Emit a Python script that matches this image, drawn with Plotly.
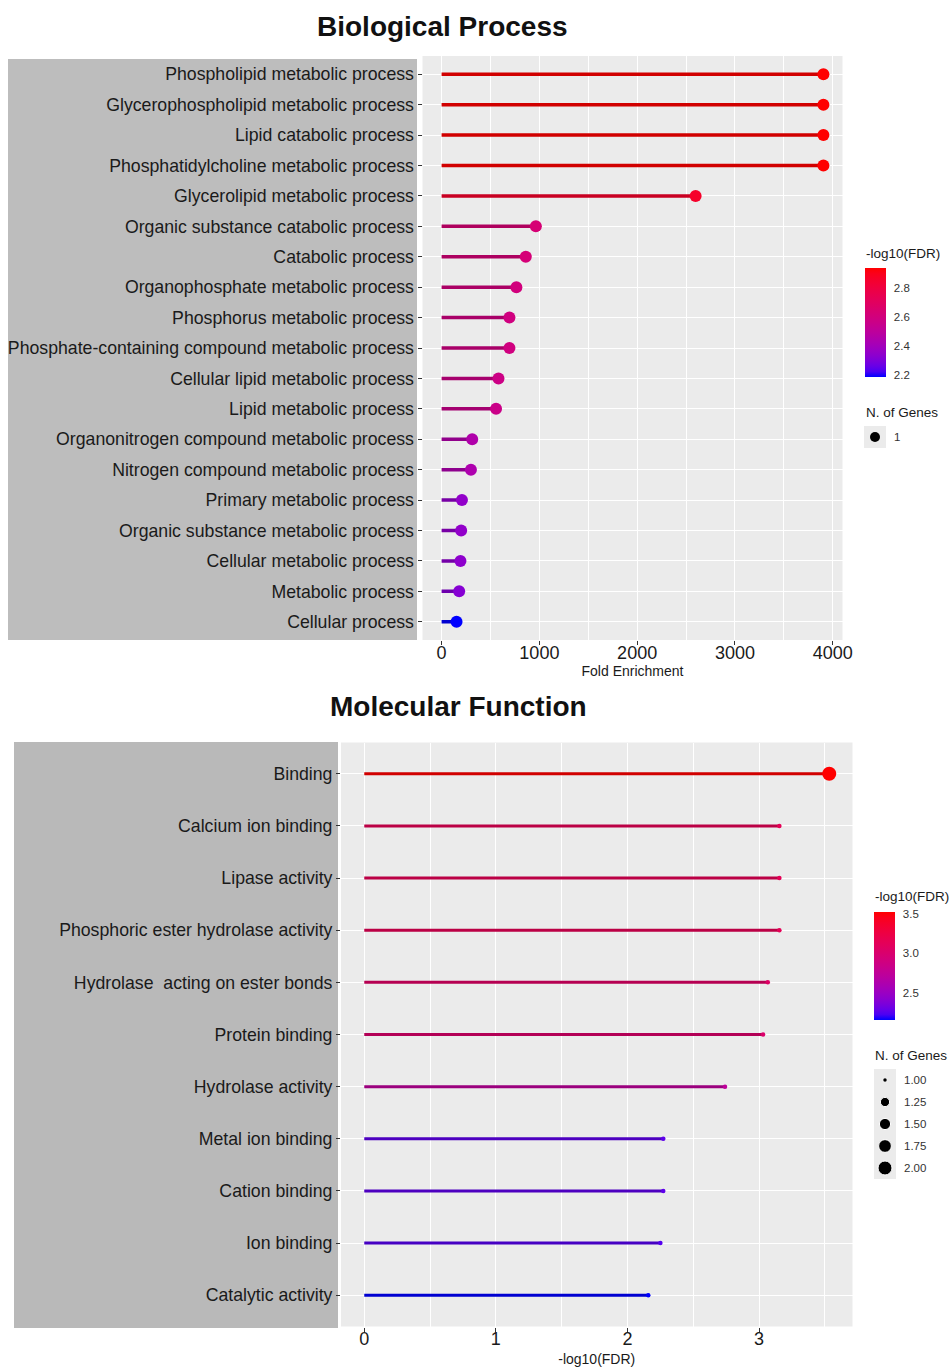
import math
import plotly.graph_objects as go

W, H = 952, 1367
# horizontal width the page actually lays the paper out on
W_PAPER = 942

# ---------------- Biological Process ----------------
bp_terms = [
    "Phospholipid metabolic process",
    "Glycerophospholipid metabolic process",
    "Lipid catabolic process",
    "Phosphatidylcholine metabolic process",
    "Glycerolipid metabolic process",
    "Organic substance catabolic process",
    "Catabolic process",
    "Organophosphate metabolic process",
    "Phosphorus metabolic process",
    "Phosphate-containing compound metabolic process",
    "Cellular lipid metabolic process",
    "Lipid metabolic process",
    "Organonitrogen compound metabolic process",
    "Nitrogen compound metabolic process",
    "Primary metabolic process",
    "Organic substance metabolic process",
    "Cellular metabolic process",
    "Metabolic process",
    "Cellular process",
]
bp_fold = [3905, 3905, 3905, 3905, 2598, 964, 861, 765, 694, 694,
           582, 557, 313, 300, 208, 200, 193, 180, 153]
bp_logfdr = [2.935, 2.935, 2.935, 2.935, 2.86, 2.63, 2.62, 2.60, 2.59, 2.59,
             2.57, 2.56, 2.45, 2.44, 2.35, 2.35, 2.34, 2.32, 2.186]
bp_genes = [1] * len(bp_terms)
bp_cbar_ticks = [2.2, 2.4, 2.6, 2.8]
bp_xticks = [0, 1000, 2000, 3000, 4000]

# ---------------- Molecular Function ----------------
mf_terms = [
    "Binding",
    "Calcium ion binding",
    "Lipase activity",
    "Phosphoric ester hydrolase activity",
    "Hydrolase  acting on ester bonds",
    "Protein binding",
    "Hydrolase activity",
    "Metal ion binding",
    "Cation binding",
    "Ion binding",
    "Catalytic activity",
]
mf_logfdr = [3.533, 3.154, 3.154, 3.154, 3.066, 3.03, 2.741, 2.272, 2.272, 2.25, 2.158]
mf_genes = [2, 1, 1, 1, 1, 1, 1, 1, 1, 1, 1]
mf_cbar_ticks = [2.5, 3.0, 3.5]
mf_xticks = [0, 1, 2, 3]
mf_size_keys = [1.00, 1.25, 1.50, 1.75, 2.00]


# ---------- colour helpers: blue -> red gradient interpolated in CIE Lab ----------
def _lin(c):
    c = c / 255.0
    return c / 12.92 if c <= 0.04045 else ((c + 0.055) / 1.055) ** 2.4


def _unlin(c):
    c = max(0.0, min(1.0, c))
    v = 12.92 * c if c <= 0.0031308 else 1.055 * c ** (1 / 2.4) - 0.055
    return max(0, min(255, round(v * 255)))


def rgb_to_lab(rgb):
    r, g, b = (_lin(v) for v in rgb)
    X = (0.4124 * r + 0.3576 * g + 0.1805 * b) / 0.95047
    Y = (0.2126 * r + 0.7152 * g + 0.0722 * b)
    Z = (0.0193 * r + 0.1192 * g + 0.9505 * b) / 1.08883
    f = lambda t: t ** (1 / 3) if t > 0.008856 else 7.787 * t + 16 / 116
    fx, fy, fz = f(X), f(Y), f(Z)
    return (116 * fy - 16, 500 * (fx - fy), 200 * (fy - fz))


def lab_to_rgb(lab):
    L, a, b = lab
    fy = (L + 16) / 116
    fx = fy + a / 500
    fz = fy - b / 200
    finv = lambda t: t ** 3 if t ** 3 > 0.008856 else (t - 16 / 116) / 7.787
    X, Y, Z = finv(fx) * 0.95047, finv(fy), finv(fz) * 1.08883
    r = 3.2406 * X - 1.5372 * Y - 0.4986 * Z
    g = -0.9689 * X + 1.8758 * Y + 0.0415 * Z
    bb = 0.0557 * X - 0.2040 * Y + 1.0570 * Z
    return (_unlin(r), _unlin(g), _unlin(bb))


LOW, HIGH = rgb_to_lab((0, 0, 255)), rgb_to_lab((255, 0, 0))


def grad(t, shade=1.0):
    t = max(0.0, min(1.0, t))
    lab = tuple(LOW[i] + (HIGH[i] - LOW[i]) * t for i in range(3))
    r, g, b = lab_to_rgb(lab)
    return f"rgb({int(r * shade)},{int(g * shade)},{int(b * shade)})"


colorscale = [[i / 20, grad(i / 20)] for i in range(21)]


def expanded(lo, hi, mult=0.05):
    span = hi - lo
    return [lo - mult * span, hi + mult * span]


def py(px):
    # pixel row (from top) -> paper y
    return 1 - px / H


def pxx(px):
    # pixel column -> paper x
    return px / W_PAPER


fig = go.Figure()

# ---------------- top panel traces ----------------
bp_min, bp_max = min(bp_logfdr), max(bp_logfdr)
for term, fe, v in zip(bp_terms, bp_fold, bp_logfdr):
    t = (v - bp_min) / (bp_max - bp_min)
    fig.add_trace(go.Scatter(
        x=[0, fe], y=[term, term], mode="lines",
        line=dict(color=grad(t, 0.82), width=3.5),
        xaxis="x", yaxis="y", showlegend=False, hoverinfo="skip"))
fig.add_trace(go.Scatter(
    x=bp_fold, y=bp_terms, mode="markers",
    marker=dict(size=[12 for _ in bp_genes], color=bp_logfdr, coloraxis="coloraxis",
                opacity=1, line=dict(width=0)),
    xaxis="x", yaxis="y", showlegend=False))

# ---------------- bottom panel traces ----------------
mf_min, mf_max = min(mf_logfdr), max(mf_logfdr)
g_min, g_max = min(mf_genes), max(mf_genes)


def dot_size(n):
    return 4.5 + 9.5 * math.sqrt((n - g_min) / (g_max - g_min))


for term, v in zip(mf_terms, mf_logfdr):
    t = (v - mf_min) / (mf_max - mf_min)
    fig.add_trace(go.Scatter(
        x=[0, v], y=[term, term], mode="lines",
        line=dict(color=grad(t, 0.82), width=3),
        xaxis="x2", yaxis="y2", showlegend=False, hoverinfo="skip"))
fig.add_trace(go.Scatter(
    x=mf_logfdr, y=mf_terms, mode="markers",
    marker=dict(size=[dot_size(n) for n in mf_genes], color=mf_logfdr,
                coloraxis="coloraxis2", opacity=1, line=dict(width=0)),
    xaxis="x2", yaxis="y2", showlegend=False))

# ---------------- size legends ----------------
fig.add_trace(go.Scatter(
    x=[0.5], y=["1"], mode="markers",
    marker=dict(size=10, color="black", opacity=1), xaxis="x3", yaxis="y3",
    showlegend=False, hoverinfo="skip"))
key_labels = [f"{k:.2f}" for k in mf_size_keys]
fig.add_trace(go.Scatter(
    x=[0.5] * len(mf_size_keys), y=key_labels, mode="markers",
    marker=dict(size=[dot_size(k) for k in mf_size_keys], color="black", opacity=1),
    xaxis="x4", yaxis="y4", showlegend=False, hoverinfo="skip"))

SANS = "Liberation Sans, Arial, Helvetica, sans-serif"
ytick_font = dict(family=SANS, size=17.7, color="#1a1a1a")
xtick_font = dict(family=SANS, size=18, color="#1a1a1a")
leg_font = dict(family=SANS, size=11.5, color="#333333")

common_x = dict(showgrid=True, gridcolor="white", gridwidth=1.3, zeroline=False,
                ticks="outside", ticklen=4, tickcolor="#333333", tickwidth=1,
                tickfont=xtick_font, showline=False, ticklabelstandoff=-8)
common_y = dict(showgrid=True, gridcolor="white", gridwidth=1.3, zeroline=False,
                ticks="outside", ticklen=4, tickcolor="#333333", tickwidth=1,
                tickfont=ytick_font, type="category", showline=False)

key_axis = dict(showgrid=False, zeroline=False, showticklabels=False, ticks="",
                fixedrange=True)

cbar_common = dict(xanchor="left", yanchor="top", lenmode="pixels", thickness=21,
                   thicknessmode="pixels", xpad=0, ypad=0, outlinewidth=0,
                   tickformat=".1f", ticks="outside", ticklen=6,
                   tickcolor="rgba(0,0,0,0)", tickfont=leg_font)

fig.update_layout(
    width=W, height=H, autosize=False,
    margin=dict(l=0, r=0, t=0, b=0),
    paper_bgcolor="white",
    plot_bgcolor="#ebebeb",
    font=dict(family=SANS, color="#1a1a1a"),
    xaxis=dict(common_x, domain=[pxx(422.5), pxx(842.5)], anchor="y",
               range=expanded(0, max(bp_fold)), tickvals=bp_xticks,
               minor=dict(tick0=0, dtick=500, showgrid=True, gridcolor="white",
                          gridwidth=0.6, ticks=""),
               title=dict(text="Fold Enrichment", standoff=2,
                          font=dict(size=14, color="#1a1a1a"))),
    yaxis=dict(common_y, domain=[py(640), py(56)], anchor="x",
               categoryorder="array", categoryarray=bp_terms[::-1],
               range=[-0.6, len(bp_terms) - 0.4]),
    xaxis2=dict(common_x, domain=[pxx(341), pxx(852.5)], anchor="y2",
                range=expanded(0, max(mf_logfdr)), tickvals=mf_xticks,
                minor=dict(tick0=0, dtick=0.5, showgrid=True, gridcolor="white",
                           gridwidth=0.6, ticks=""),
                title=dict(text="-log10(FDR)", standoff=7,
                           font=dict(size=14, color="#1a1a1a"))),
    yaxis2=dict(common_y, domain=[py(1326.5), py(742.5)], anchor="x2",
                categoryorder="array", categoryarray=mf_terms[::-1],
                range=[-0.6, len(mf_terms) - 0.4]),
    xaxis3=dict(key_axis, domain=[pxx(864), pxx(886)], anchor="y3", range=[0, 1]),
    yaxis3=dict(key_axis, domain=[py(448), py(426)], anchor="x3", type="category",
                side="right", showticklabels=True, tickfont=leg_font,
                ticklabelstandoff=7),
    xaxis4=dict(key_axis, domain=[pxx(874), pxx(896)], anchor="y4", range=[0, 1]),
    yaxis4=dict(key_axis, domain=[py(1179), py(1069)], anchor="x4", type="category",
                categoryorder="array", categoryarray=key_labels[::-1],
                range=[-0.5, len(key_labels) - 0.5],
                side="right", showticklabels=True, tickfont=leg_font,
                ticklabelstandoff=7),
    coloraxis=dict(
        colorscale=colorscale, cmin=bp_min, cmax=bp_max,
        colorbar=dict(cbar_common, x=pxx(865), y=py(268), len=109,
                      tickvals=bp_cbar_ticks)),
    coloraxis2=dict(
        colorscale=colorscale, cmin=mf_min, cmax=mf_max,
        colorbar=dict(cbar_common, x=pxx(874), y=py(911.5), len=108,
                      tickvals=mf_cbar_ticks)),
)

# grey label backgrounds behind the term names
fig.add_shape(type="rect", xref="paper", yref="paper", layer="below",
              x0=pxx(8), x1=pxx(417), y0=py(640), y1=py(59),
              fillcolor="#bdbdbd", line=dict(width=0))
fig.add_shape(type="rect", xref="paper", yref="paper", layer="below",
              x0=pxx(14), x1=pxx(338), y0=py(1328), y1=py(742),
              fillcolor="#b9b9b9", line=dict(width=0))

title_font = dict(family=SANS, size=28, color="#111111", weight="bold")
fig.add_annotation(text="Biological Process", x=pxx(442), y=py(27), xref="paper",
                   yref="paper", showarrow=False, xanchor="center", yanchor="middle",
                   font=title_font)
fig.add_annotation(text="Molecular Function", x=pxx(458), y=py(706), xref="paper",
                   yref="paper", showarrow=False, xanchor="center", yanchor="middle",
                   font=title_font)

head_font = dict(family=SANS, size=13.5, color="#1a1a1a")
for txt, x, y in [("-log10(FDR)", 864, 254), ("N. of Genes", 864, 412),
                  ("-log10(FDR)", 873, 896), ("N. of Genes", 873, 1055)]:
    fig.add_annotation(text=txt, x=pxx(x), y=py(y), xref="paper", yref="paper",
                       showarrow=False, xanchor="left", yanchor="middle", font=head_font)

fig.write_html("out.html")
